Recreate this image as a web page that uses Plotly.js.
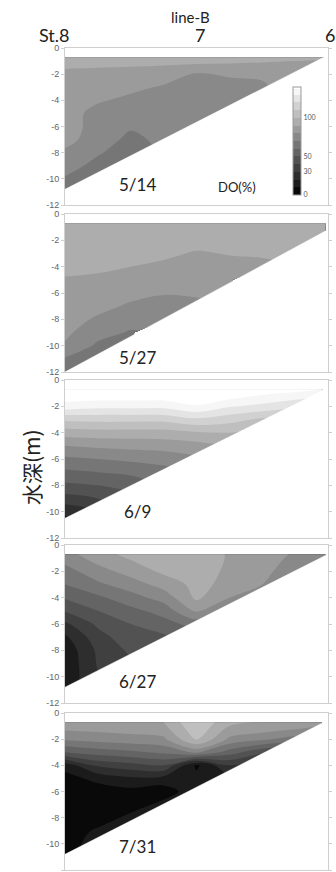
<!DOCTYPE html>
<html><head><meta charset="utf-8">
<script src="https://cdn.plot.ly/plotly-3.0.1.min.js"></script>
<style>html,body{margin:0;padding:0;background:#fff}#chart{width:336px;height:872px}</style>
</head><body><div id="chart"></div>
<script>
// ---- shared axes / labels ----
const depthRows = [-0.7,-1,-2,-3,-4,-5,-6,-7,-8,-9,-10,-11,-12];
const stationX = [0, 1, 2];
const stationLabels = ['St.8', '7', '6'];
const yTickVals = [0,-2,-4,-6,-8,-10,-12];
const yTickText = ['0','-2','-4','-6','-8','-10','-12'];
const cbTickVals = [0,30,50,100];
const cbTickText = ['0','30','50','100'];
const surveyDates = ['5/14','5/27','6/9','6/27','7/31'];

// ---- 5/14 : DO(%) by column (x), rows = depthRows ----
const x_0514 = [0,0.25,0.5,0.75,1.0,1.25,1.5,1.75,1.97];
const do_0514 = [
  [95,93,88,85,82,84,86,84,78,74,69,65,null],
  [95,93,87,84,81,77,75,74,71,67,64,null,null],
  [95,93,86,82,78,75,71,68,65,62,null,null,null],
  [95,93,84,79,76,74,73,72,71,null,null,null,null],
  [95,93,79,76,75,75,75,null,null,null,null,null,null],
  [94,92,81,77,77,77,null,null,null,null,null,null,null],
  [93,91,81,79,79,null,null,null,null,null,null,null,null],
  [93,90,84,83,null,null,null,null,null,null,null,null,null],
  [92,89,85,null,null,null,null,null,null,null,null,null,null]
];
const bottomX_0514 = [0, 1.96];
const bottomY_0514 = [-10.8, -0.75];

// ---- 5/27 ----
const x_0527 = [0,0.25,0.5,0.75,1.0,1.25,1.5,1.75,1.98];
const do_0527 = [
  [97,97,96,95,93,89,87,85,83,82,79,69,65],
  [97,97,96,94,92,88,85,82,79,74,68,64,null],
  [97,97,96,93,90,87,82,79,74,69,66,null,null],
  [97,97,95,92,88,84,80.5,77,74,null,null,null,null],
  [97,97,94,89,86,83,81,78,null,null,null,null,null],
  [97,97,94,90.5,87,84,82,null,null,null,null,null,null],
  [97,97,95,91,88,null,null,null,null,null,null,null,null],
  [97,97,95,93,null,null,null,null,null,null,null,null,null],
  [97,97,96,null,null,null,null,null,null,null,null,null,null]
];
const bottomX_0527 = [0, 1.98];
const bottomY_0527 = [-12.0, -1.3];

// ---- 6/9 ----
const x_0609 = [0,0.25,0.5,0.75,1.0,1.25,1.5,1.75,1.96];
const do_0609 = [
  [150,148,136,112,95,80,68,58,48,36,22,15,null],
  [150,149,133,113,96,82,70,60,50,40,30,null,null],
  [150,149,133,113,96,83,72,62,54,46,null,null,null],
  [150,149,133,113,96,84,74,66,60,null,null,null,null],
  [150,150,139,118,99,86,78,null,null,null,null,null,null],
  [150,148,131,114,100,90,null,null,null,null,null,null,null],
  [150,142,127,108,98,null,null,null,null,null,null,null,null],
  [146,138,122,108,null,null,null,null,null,null,null,null,null],
  [140,134,120,null,null,null,null,null,null,null,null,null,null]
];
const bottomX_0609 = [0, 1.96];
const bottomY_0609 = [-10.5, -0.8];

// ---- 6/27 ----
const x_0627 = [0,0.25,0.5,0.75,1.0,1.25,1.5,1.75,1.98];
const do_0627 = [
  [76,74,66,60,51,41,28,18,13,12,13,16,null],
  [86,84,76,68,58,50,42,36,32,31,29,null,null],
  [93,91,84,75,66,57,50,46,42,38,null,null,null],
  [95,94,92,84,74,64,56,48,44,null,null,null,null],
  [96,96,95,93,92,82,64,null,null,null,null,null,null],
  [89,89,88,87,80,66,null,null,null,null,null,null,null],
  [84,84,83,80,68,null,null,null,null,null,null,null,null],
  [79,78,74,64,null,null,null,null,null,null,null,null,null],
  [73,71,62,null,null,null,null,null,null,null,null,null,null]
];
const bottomX_0627 = [0, 1.98];
const bottomY_0627 = [-10.8, -0.8];

// ---- 7/31 ----
const x_0731 = [0,0.25,0.5,0.75,1.0,1.25,1.5,1.75,1.95];
const do_0731 = [
  [86,84,72,50,14,6,4,3,3,3,4,8,null],
  [87,85,74,55,32,13,5,4,4,12,16,null,null],
  [88,86,76,58,36,18,7,5,13,17,null,null,null],
  [90,88,78,62,40,16,5,13,17,null,null,null,null],
  [110,108,101,72,8,13,16,null,null,null,null,null,null],
  [92,90,78,55,30,20,null,null,null,null,null,null,null],
  [90,88,72,42,25,null,null,null,null,null,null,null,null],
  [88,85,65,40,null,null,null,null,null,null,null,null,null],
  [84,80,60,null,null,null,null,null,null,null,null,null,null]
];
const bottomX_0731 = [0, 1.95];
const bottomY_0731 = [-10.8, -0.8];

// ---- build ----
const panels = [
  {x: x_0514, z: do_0514, bx: bottomX_0514, by: bottomY_0514},
  {x: x_0527, z: do_0527, bx: bottomX_0527, by: bottomY_0527},
  {x: x_0609, z: do_0609, bx: bottomX_0609, by: bottomY_0609},
  {x: x_0627, z: do_0627, bx: bottomX_0627, by: bottomY_0627},
  {x: x_0731, z: do_0731, bx: bottomX_0731, by: bottomY_0731}
];
const xRange = [0, 2];
const yRange = [-12, 0];
const W = 336, H = 872, mT = 48, mB = 2;
const panelPx = [[48,205],[214,372],[380,538],[545,703],[713,870]];
const plotH = H - mT - mB;
const toPaperY = py => (H - mB - py) / plotH;

const grey = [[0,'#000000'],[1,'#ffffff']];
const traces = [];
const layout = {
  width: W, height: H,
  margin: {l: 65, r: 8, t: mT, b: mB},
  paper_bgcolor: '#ffffff', plot_bgcolor: '#ffffff',
  showlegend: false,
  font: {family: 'Lato, "Open Sans", sans-serif', color: '#222'},
  annotations: []
};
const labelDepth = [-10.4, -10.9, -10.0, -10.4, -10.2];

panels.forEach((p, i) => {
  const n = i === 0 ? '' : String(i + 1);
  const xa = 'x' + n, ya = 'y' + n;
  traces.push({
    type: 'contour', x: p.x, y: depthRows, z: p.z, transpose: true,
    xaxis: xa, yaxis: ya,
    zmin: 0, zmax: 140, zauto: false, colorscale: grey,
    autocontour: false,
    contours: {start: 0, end: 140, size: 10, coloring: 'fill', showlines: false},
    line: {width: 0, smoothing: 1},
    hoverinfo: 'skip',
    showscale: i === 0,
    colorbar: {
      tickvals: cbTickVals, ticktext: cbTickText,
      thickness: 8, len: 108, lenmode: 'pixels',
      x: (293 - 65) / 263, xanchor: 'left', xpad: 0,
      y: toPaperY(141), yanchor: 'middle', ypad: 0,
      outlinecolor: '#999', outlinewidth: 1,
      ticks: '', ticklabelpad: 2,
      tickfont: {size: 7, color: '#555', family: 'Lato, sans-serif'}
    }
  });
  // mask below the sea bottom
  traces.push({
    type: 'scatter', mode: 'lines', xaxis: xa, yaxis: ya,
    x: [p.bx[0], p.bx[1], xRange[1], xRange[1], xRange[0], xRange[0]],
    y: [p.by[0], p.by[1], p.by[1], yRange[0], yRange[0], p.by[0]],
    fill: 'toself', fillcolor: '#ffffff',
    line: {color: '#ffffff', width: 0.5},
    hoverinfo: 'skip'
  });
  const dom = [toPaperY(panelPx[i][1]), toPaperY(panelPx[i][0])];
  layout['xaxis' + n] = {
    domain: [0, 1], range: xRange, anchor: ya,
    showticklabels: false, ticks: '', showgrid: false, zeroline: false,
    showline: true, mirror: true, linecolor: '#cfcfcf', linewidth: 1
  };
  layout['yaxis' + n] = {
    domain: dom, range: yRange, anchor: xa,
    tickvals: yTickVals, ticktext: yTickText,
    ticks: 'outside', ticklen: 3, tickcolor: '#cfcfcf', tickwidth: 1,
    showgrid: false, zeroline: false,
    showline: true, mirror: 'ticks', linecolor: '#cfcfcf', linewidth: 1,
    tickfont: {size: 9, color: '#666', family: '"Liberation Sans", Arial, sans-serif'}
  };
  layout.annotations.push({
    xref: xa, yref: ya, x: 0.55, y: labelDepth[i], text: surveyDates[i],
    xanchor: 'center', yanchor: 'middle',
    showarrow: false, font: {size: 17, color: '#222'}
  });
});

layout.annotations.push({
  xref: 'x', yref: 'y', x: 1.31, y: -10.6, text: 'DO(%)',
  xanchor: 'center', yanchor: 'middle',
  showarrow: false, font: {size: 13, color: '#222'}
});
layout.annotations.push({
  xref: 'paper', yref: 'paper', x: (190 - 65) / 263, y: toPaperY(17),
  xanchor: 'center', yanchor: 'middle',
  text: 'line-B', showarrow: false, font: {size: 15, color: '#222'}
});
const stationShift = [7, 3.5, 2];
stationX.forEach((sx, k) => {
  layout.annotations.push({
    xref: 'x', yref: 'paper', x: sx, y: toPaperY(35),
    xanchor: k === 0 ? 'right' : 'center', yanchor: 'middle', xshift: stationShift[k],
    text: stationLabels[k], showarrow: false, font: {size: 18, color: '#222'}
  });
});
layout.annotations.push({
  xref: 'paper', yref: 'paper', x: (31 - 65) / 263, y: toPaperY(467),
  xanchor: 'center', yanchor: 'middle',
  text: '水深(m)', textangle: -90, showarrow: false,
  font: {size: 21, color: '#222', family: '"Noto Sans CJK JP", sans-serif'}
});

Plotly.newPlot('chart', traces, layout, {staticPlot: true, displayModeBar: false});
</script>
</body></html>
